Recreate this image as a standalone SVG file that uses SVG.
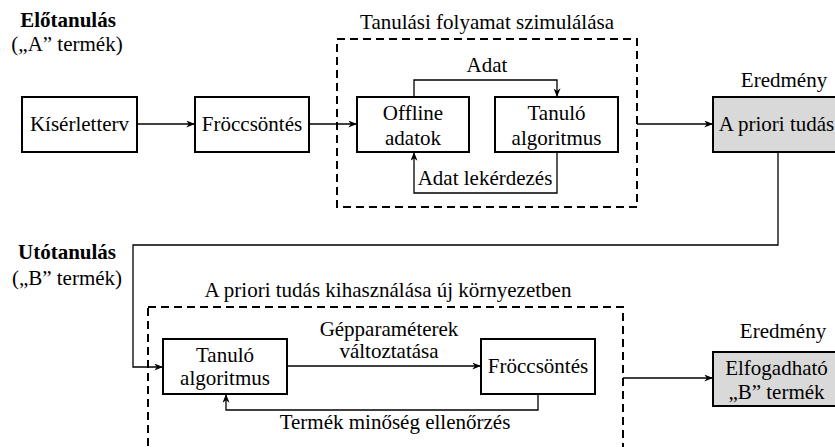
<svg xmlns="http://www.w3.org/2000/svg" width="835" height="447" viewBox="0 0 835 447">
<style>
text{font-family:'Liberation Serif','Times New Roman',serif;font-size:21px;fill:#000;text-anchor:middle}
.b{font-weight:bold}
.box{fill:#fff;stroke:#000;stroke-width:2}
.res{fill:#d9d9d9;stroke:#000;stroke-width:2}
.dash{fill:none;stroke:#000;stroke-width:2;stroke-dasharray:8 5}
.c{fill:none;stroke:#000;stroke-width:1.3}
</style>
<defs>
<marker id="ah" viewBox="0 0 10 8" refX="10" refY="4" markerWidth="9" markerHeight="7" orient="auto" markerUnits="userSpaceOnUse">
<path d="M0,0 L10,4 L0,8 L3,4 z" fill="#000"/>
</marker>
</defs>
<rect width="835" height="447" fill="#fff"/>
<g font-family="Liberation Serif, Times New Roman, serif" font-size="21" text-anchor="middle">
<g id="labels">
<text class="b" x="68" y="27">Előtanulás</text>
<text x="67" y="51">(„A” termék)</text>
<text class="b" x="67" y="259">Utótanulás</text>
<text x="67" y="285">(„B” termék)</text>
</g>
<g id="group-sim">
<rect class="dash" x="337" y="39" width="300" height="168"/>
<text x="487" y="29">Tanulási folyamat szimulálása</text>
</g>
<g id="group-apply">
<rect class="dash" x="148" y="307" width="475" height="160"/>
<text x="388" y="297">A priori tudás kihasználása új környezetben</text>
</g>
<g id="connectors">
<path class="c" d="M137,124 H195" marker-end="url(#ah)"/>
<path class="c" d="M309,124 H357" marker-end="url(#ah)"/>
<path class="c" d="M414,97 V80 H557 V97" marker-end="url(#ah)"/>
<path class="c" d="M557,152 V193 H414 V152" marker-end="url(#ah)"/>
<path class="c" d="M637,124 H713" marker-end="url(#ah)"/>
<path class="c" d="M778,152 V245 H133 V367 H163" marker-end="url(#ah)"/>
<path class="c" d="M287,366 H481" marker-end="url(#ah)"/>
<path class="c" d="M538,394 V410 H226 V394" marker-end="url(#ah)"/>
<path class="c" d="M623,378 H713" marker-end="url(#ah)"/>
<text x="487" y="72">Adat</text>
<text x="485" y="185">Adat lekérdezés</text>
<text x="389" y="336">Gépparaméterek</text>
<text x="389" y="358">változtatása</text>
<text x="395" y="429">Termék minőség ellenőrzés</text>
</g>
<g id="kiserletterv">
<rect class="box" x="22" y="97" width="115" height="55"/>
<text x="79.5" y="131">Kísérletterv</text>
</g>
<g id="froccsontes1">
<rect class="box" x="195" y="97" width="114" height="55"/>
<text x="252" y="131">Fröccsöntés</text>
</g>
<g id="offline">
<rect class="box" x="357" y="97" width="112" height="55"/>
<text x="413" y="120">Offline</text>
<text x="413" y="145">adatok</text>
</g>
<g id="tanulo1">
<rect class="box" x="495" y="97" width="123" height="55"/>
<text x="556.5" y="120">Tanuló</text>
<text x="556.5" y="145">algoritmus</text>
</g>
<g id="eredmeny1">
<text x="784" y="87">Eredmény</text>
<rect class="res" x="713" y="97" width="127" height="55"/>
<text x="776.5" y="131">A priori tudás</text>
</g>
<g id="tanulo2">
<rect class="box" x="163" y="339" width="124" height="55"/>
<text x="225" y="362">Tanuló</text>
<text x="225" y="385">algoritmus</text>
</g>
<g id="froccsontes2">
<rect class="box" x="481" y="339" width="114" height="55"/>
<text x="538" y="373">Fröccsöntés</text>
</g>
<g id="eredmeny2">
<text x="783" y="338">Eredmény</text>
<rect class="res" x="713" y="352" width="127" height="54"/>
<text x="776.5" y="375">Elfogadható</text>
<text x="776.5" y="399">„B” termék</text>
</g>
</g>
</svg>
